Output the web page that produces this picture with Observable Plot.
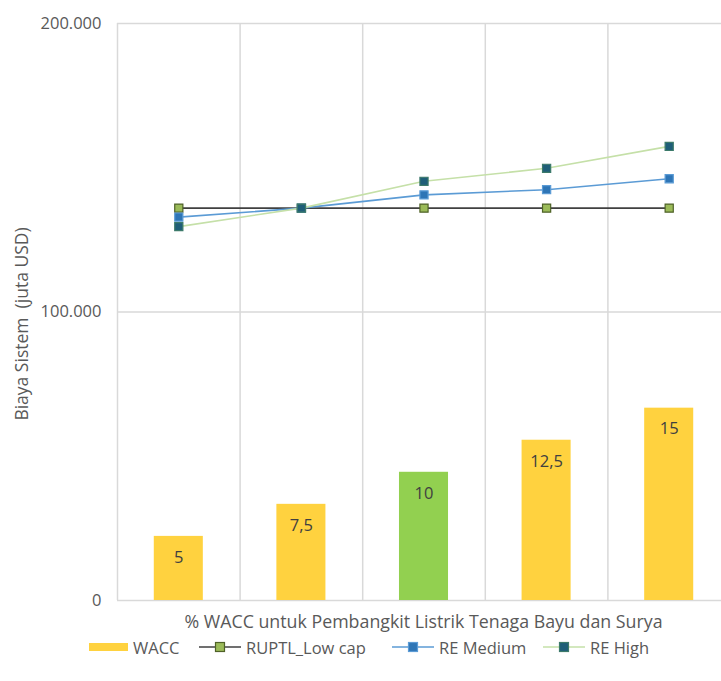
<!DOCTYPE html>
<html>
<head>
<meta charset="utf-8">
<script src="https://cdn.jsdelivr.net/npm/d3@7"></script>
<script src="https://cdn.jsdelivr.net/npm/@observablehq/plot@0.6"></script>
<style>
  body { margin: 0; background: #fff; font-family: "Open Sans", sans-serif; }
  #chart { position: relative; width: 721px; height: 681px; overflow: hidden; }
  #chart svg { display: block; }
  .legend { position: absolute; left: 0; top: 634px; width: 721px; height: 26px; font-size: 16.5px; color: #595959; }
  .legend .item { position: absolute; top: 0; height: 26px; display: flex; align-items: center; white-space: nowrap; }
  .legend svg { margin-right: 5px; }
</style>
</head>
<body>
<div id="chart"></div>
<script>
// WACC scenarios for wind and solar generation (%), shown as bars
const wacc = [5, 7.5, 10, 12.5, 15];
const waccLabels = ["5", "7,5", "10", "12,5", "15"];
const barColors = ["#FFD23F", "#FFD23F", "#92D050", "#FFD23F", "#FFD23F"];
const waccAxisMax = 45; // the bars use their own (hidden) 0–45 axis

// Total system cost per scenario (million USD)
const ruptlLowCap = [136000, 136000, 136000, 136000, 136000];
const reMedium = [132900, 136000, 140600, 142400, 146200];
const reHigh = [129600, 136000, 145300, 149800, 157400];

const yTicks = [0, 100000, 200000];
const yMax = 200000;

const seriesNames = ["RUPTL_Low cap", "RE Medium", "RE High"];
const seriesValues = [ruptlLowCap, reMedium, reHigh];
const seriesLine = ["#404040", "#5B9BD5", "#C5E0A8"];
const seriesFill = ["#9BBB59", "#2E75B6", "#1F5E78"];
const seriesStroke = ["#4F6228", "#5B9BD5", "#3C7A6A"];

const idx = wacc.map((_, i) => i);
const bars = wacc.map((v, i) => ({i, v, label: waccLabels[i], color: barColors[i]}));
const points = seriesNames.flatMap((name, s) =>
  seriesValues[s].map((v, i) => ({name, s, i, v})));

const fmt = d3.formatLocale({decimal: ",", thousands: ".", grouping: [3], currency: ["", ""]}).format(",");
const toPrimary = (v) => v * yMax / waccAxisMax;

const gridColor = "#D9D9D9";
const textColor = "#595959";

const plot = Plot.plot({
  width: 721,
  height: 635,
  marginLeft: 117,
  marginRight: 0,
  marginTop: 23,
  marginBottom: 35,
  style: {fontFamily: "Open Sans, sans-serif", background: "#fff"},
  x: {type: "linear", domain: [-0.5, idx.length - 0.5], range: [117, 730], axis: null},
  y: {domain: [0, yMax], axis: null},
  marks: [
    // gridlines between categories and along the value ticks
    Plot.ruleX(idx, {x: (i) => i - 0.5, stroke: gridColor, strokeWidth: 1.5}),
    Plot.ruleY(yTicks, {stroke: gridColor, strokeWidth: 1.5}),
    Plot.axisY(yTicks, {
      tickSize: 0, tickPadding: 16, tickFormat: fmt, label: null,
      fontSize: 16.5, fill: textColor
    }),
    // WACC bars
    Plot.rectY(bars, {
      x1: (d) => d.i - 0.2, x2: (d) => d.i + 0.2,
      y1: 0, y2: (d) => toPrimary(d.v),
      fill: (d) => d.color
    }),
    Plot.text(bars, {
      x: "i", y: (d) => toPrimary(d.v), text: "label",
      dy: 21, fontSize: 16.5, fill: "#404040"
    }),
    // cost lines
    ...seriesNames.map((name, s) =>
      Plot.line(points.filter((d) => d.s === s), {
        x: "i", y: "v", stroke: seriesLine[s], strokeWidth: 1.6
      })),
    ...seriesNames.map((name, s) =>
      Plot.dot(points.filter((d) => d.s === s), {
        x: "i", y: "v", symbol: "square", r: 4.6,
        fill: seriesFill[s], stroke: seriesStroke[s], strokeWidth: 1.2
      })),
    // axis titles
    Plot.text(["% WACC untuk Pembangkit Listrik Tenaga Bayu dan Surya"], {
      frameAnchor: "bottom", textAnchor: "middle", lineAnchor: "middle",
      dx: 4, dy: 22, fontSize: 17.8, fill: textColor
    }),
    Plot.text(["Biaya Sistem  (juta USD)"], {
      frameAnchor: "left", textAnchor: "middle", lineAnchor: "middle",
      rotate: -90, dx: -95, dy: 12, fontSize: 17.5, fill: textColor
    })
  ]
});

const chart = document.getElementById("chart");
chart.appendChild(plot);

// legend below the plot
const legend = document.createElement("div");
legend.className = "legend";
const items = [
  {left: 89, label: "WACC", type: "bar", color: barColors[0]},
  ...seriesNames.map((name, s) => ({
    left: [199, 392, 543][s], label: name, type: "line",
    line: seriesLine[s], fill: seriesFill[s], stroke: seriesStroke[s]
  }))
];
for (const it of items) {
  const el = document.createElement("div");
  el.className = "item";
  el.style.left = it.left + "px";
  let sw;
  if (it.type === "bar") {
    sw = `<svg width="39" height="10"><rect x="0" y="1" width="39" height="8" fill="${it.color}"/></svg>`;
  } else {
    sw = `<svg width="42" height="12"><line x1="0" x2="42" y1="6" y2="6" stroke="${it.line}" stroke-width="1.6"/>` +
         `<rect x="16.5" y="1.5" width="9" height="9" fill="${it.fill}" stroke="${it.stroke}" stroke-width="1.2"/></svg>`;
  }
  el.innerHTML = sw + `<span>${it.label}</span>`;
  legend.appendChild(el);
}
chart.appendChild(legend);
</script>
</body>
</html>
